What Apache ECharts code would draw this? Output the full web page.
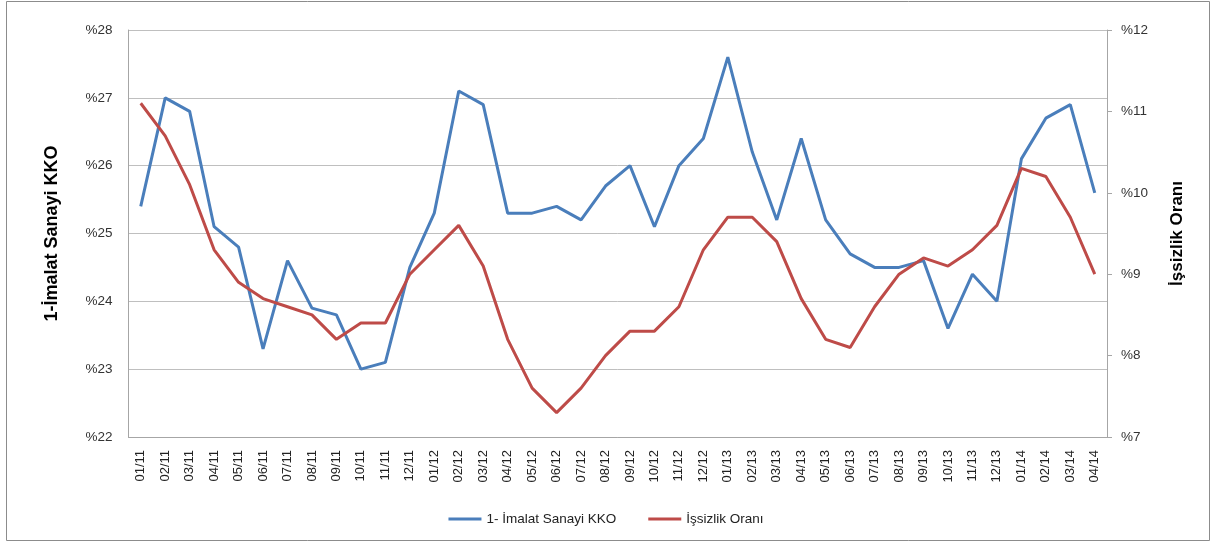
<!DOCTYPE html>
<html>
<head>
<meta charset="utf-8">
<script src="https://cdn.jsdelivr.net/npm/echarts@6/dist/echarts.min.js"></script>
<style>
html,body{margin:0;padding:0;background:#fff;}
#c{width:1212px;height:543px;}
</style>
</head>
<body>
<div id="c"></div>
<script>
const categories = ["01/11","02/11","03/11","04/11","05/11","06/11","07/11","08/11","09/11","10/11","11/11","12/11",
"01/12","02/12","03/12","04/12","05/12","06/12","07/12","08/12","09/12","10/12","11/12","12/12",
"01/13","02/13","03/13","04/13","05/13","06/13","07/13","08/13","09/13","10/13","11/13","12/13",
"01/14","02/14","03/14","04/14"];
const kko = [25.4,27.0,26.8,25.1,24.8,23.3,24.6,23.9,23.8,23.0,23.1,24.5,
25.3,27.1,26.9,25.3,25.3,25.4,25.2,25.7,26.0,25.1,26.0,26.4,
27.6,26.2,25.2,26.4,25.2,24.7,24.5,24.5,24.6,23.6,24.4,24.0,
26.1,26.7,26.9,25.6];
const issizlik = [11.1,10.7,10.1,9.3,8.9,8.7,8.6,8.5,8.2,8.4,8.4,9.0,
9.3,9.6,9.1,8.2,7.6,7.3,7.6,8.0,8.3,8.3,8.6,9.3,
9.7,9.7,9.4,8.7,8.2,8.1,8.6,9.0,9.2,9.1,9.3,9.6,
10.3,10.2,9.7,9.0];
const leftTicks = {min:22, max:28, interval:1};
const rightTicks = {min:7, max:12, interval:1};
const seriesNames = ["1- İmalat Sanayi KKO", "İşsizlik Oranı"];

const chart = echarts.init(document.getElementById('c'), null, {renderer:'canvas'});
const font = "'Liberation Sans', 'DejaVu Sans', sans-serif";
chart.setOption({
  animation:false,
  backgroundColor:'#fff',
  textStyle:{fontFamily:font},
  graphic:[{type:'rect', shape:{x:6.5,y:1.5,width:1203,height:539}, style:{fill:'none', stroke:'#8c8c8c', lineWidth:1}, silent:true}],
  grid:{left:128.5, right:105, top:30, bottom:106, containLabel:false},
  legend:{
    bottom:12, left:'center', itemWidth:33, itemHeight:3, itemGap:32,
    icon:'rect',
    textStyle:{fontSize:13.5, color:'#222', fontFamily:font},
    data:seriesNames
  },
  xAxis:{
    type:'category', data:categories, boundaryGap:true,
    axisLine:{show:true, lineStyle:{color:'#a6a6a6', width:1}},
    axisTick:{show:false},
    axisLabel:{rotate:90, interval:0, margin:13, fontSize:13, color:'#222', fontFamily:font},
    splitLine:{show:false}
  },
  yAxis:[{
    type:'value', min:leftTicks.min, max:leftTicks.max, interval:leftTicks.interval, position:'left',
    name:'1-İmalat Sanayi KKO', nameLocation:'middle', nameGap:67, nameRotate:90,
    nameTextStyle:{fontSize:18, fontWeight:'bold', color:'#000', fontFamily:font},
    axisLine:{show:true, lineStyle:{color:'#a6a6a6'}},
    axisTick:{show:false},
    axisLabel:{formatter:v=>'%'+v, fontSize:13.5, color:'#333', margin:16, fontFamily:font},
    splitLine:{show:true, lineStyle:{color:'#bfbfbf', width:1}}
  },{
    type:'value', min:rightTicks.min, max:rightTicks.max, interval:rightTicks.interval, position:'right',
    name:'İşsizlik Oranı', nameLocation:'middle', nameGap:62, nameRotate:90,
    nameTextStyle:{fontSize:17, fontWeight:'bold', color:'#000', fontFamily:font},
    axisLine:{show:true, lineStyle:{color:'#a6a6a6'}},
    axisTick:{show:true, inside:false, length:5, lineStyle:{color:'#a6a6a6'}},
    axisLabel:{formatter:v=>'%'+v, fontSize:13.5, color:'#333', margin:14, fontFamily:font},
    splitLine:{show:false}
  }],
  series:[{
    name:seriesNames[0], type:'line', yAxisIndex:0, data:kko, symbol:'none',
    lineStyle:{color:'#4a7ebb', width:3}, itemStyle:{color:'#4a7ebb'}
  },{
    name:seriesNames[1], type:'line', yAxisIndex:1, data:issizlik, symbol:'none',
    lineStyle:{color:'#be4b48', width:3}, itemStyle:{color:'#be4b48'}
  }]
});
</script>
</body>
</html>
